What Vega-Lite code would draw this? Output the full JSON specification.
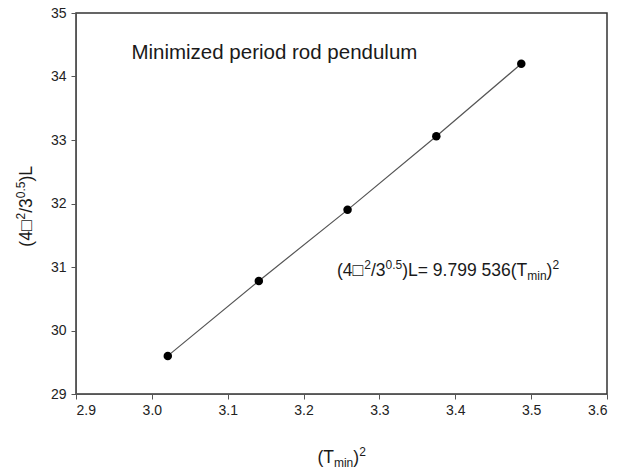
{
  "$schema": "https://vega.github.io/schema/vega-lite/v6.json",
  "width": 531,
  "height": 381,
  "autosize": {"type": "none"},
  "padding": {"left": 76, "top": 13, "right": 11, "bottom": 76},
  "background": "white",
  "config": {
    "font": "Liberation Sans",
    "view": {"stroke": "#333", "strokeWidth": 1.5},
    "axis": {
      "grid": false,
      "domainColor": "#555",
      "tickColor": "#555",
      "tickSize": 5,
      "labelFont": "Liberation Sans",
      "labelFontSize": 14,
      "labelColor": "#222"
    },
    "text": {"font": "Liberation Sans", "color": "#1a1a1a", "baseline": "alphabetic", "align": "left"}
  },
  "datasets": {
    "pts": [
      {"t2": 3.021, "val": 29.60},
      {"t2": 3.141, "val": 30.78},
      {"t2": 3.258, "val": 31.90},
      {"t2": 3.375, "val": 33.06},
      {"t2": 3.487, "val": 34.20}
    ],
    "texts": [
      {"id": "title", "t2": 2.973, "val": 34.37, "label": "Minimized period rod pendulum"},
      {"id": "e1", "t2": 3.2441, "val": 30.858, "label": "(4□"},
      {"id": "e2", "t2": 3.2441, "val": 30.858, "label": "2"},
      {"id": "e3", "t2": 3.2441, "val": 30.858, "label": "/3"},
      {"id": "e4", "t2": 3.2441, "val": 30.858, "label": "0.5"},
      {"id": "e5", "t2": 3.2441, "val": 30.858, "label": ")L= 9.799 536(T"},
      {"id": "e6", "t2": 3.2441, "val": 30.858, "label": "min"},
      {"id": "e7", "t2": 3.2441, "val": 30.858, "label": ")"},
      {"id": "e8", "t2": 3.2441, "val": 30.858, "label": "2"},
      {"id": "x1", "t2": 3.2183, "val": 27.913, "label": "(T"},
      {"id": "x2", "t2": 3.2183, "val": 27.913, "label": "min"},
      {"id": "x3", "t2": 3.2183, "val": 27.913, "label": ")"},
      {"id": "x4", "t2": 3.2183, "val": 27.913, "label": "2"},
      {"id": "y1", "t2": 2.842, "val": 31.32, "label": "(4□"},
      {"id": "y2", "t2": 2.842, "val": 31.32, "label": "2"},
      {"id": "y3", "t2": 2.842, "val": 31.32, "label": "/3"},
      {"id": "y4", "t2": 2.842, "val": 31.32, "label": "0.5"},
      {"id": "y5", "t2": 2.842, "val": 31.32, "label": ")L"}
    ]
  },
  "encoding": {
    "x": {
      "field": "t2", "type": "quantitative",
      "scale": {"domain": [2.9, 3.6], "nice": false, "zero": false},
      "axis": {"title": null, "tickCount": 7, "format": ".1f", "labelPadding": 4}
    },
    "y": {
      "field": "val", "type": "quantitative",
      "scale": {"domain": [29, 35], "nice": false, "zero": false},
      "axis": {"title": null, "tickCount": 6, "format": "d", "labelPadding": 5}
    }
  },
  "layer": [
    {
      "data": {"name": "pts"},
      "mark": {"type": "line", "color": "#555", "strokeWidth": 1.2}
    },
    {
      "data": {"name": "pts"},
      "mark": {"type": "point", "filled": true, "color": "black", "size": 72, "opacity": 1}
    },
    {
      "data": {"name": "texts"},
      "transform": [{"filter": "datum.id === 'title'"}],
      "mark": {"type": "text", "baseline": "middle", "fontSize": 20.5},
      "encoding": {"text": {"field": "label"}}
    },
    {"data": {"name": "texts"}, "transform": [{"filter": "datum.id === 'e1'"}],
     "mark": {"type": "text", "fontSize": 17.5, "dx": 0}, "encoding": {"text": {"field": "label"}}},
    {"data": {"name": "texts"}, "transform": [{"filter": "datum.id === 'e2'"}],
     "mark": {"type": "text", "fontSize": 12, "dx": 27.2, "dy": -7}, "encoding": {"text": {"field": "label"}}},
    {"data": {"name": "texts"}, "transform": [{"filter": "datum.id === 'e3'"}],
     "mark": {"type": "text", "fontSize": 17.5, "dx": 33.9}, "encoding": {"text": {"field": "label"}}},
    {"data": {"name": "texts"}, "transform": [{"filter": "datum.id === 'e4'"}],
     "mark": {"type": "text", "fontSize": 12, "dx": 48.5, "dy": -7}, "encoding": {"text": {"field": "label"}}},
    {"data": {"name": "texts"}, "transform": [{"filter": "datum.id === 'e5'"}],
     "mark": {"type": "text", "fontSize": 17.5, "dx": 65.2}, "encoding": {"text": {"field": "label"}}},
    {"data": {"name": "texts"}, "transform": [{"filter": "datum.id === 'e6'"}],
     "mark": {"type": "text", "fontSize": 12, "dx": 190.2, "dy": 4}, "encoding": {"text": {"field": "label"}}},
    {"data": {"name": "texts"}, "transform": [{"filter": "datum.id === 'e7'"}],
     "mark": {"type": "text", "fontSize": 17.5, "dx": 209.5}, "encoding": {"text": {"field": "label"}}},
    {"data": {"name": "texts"}, "transform": [{"filter": "datum.id === 'e8'"}],
     "mark": {"type": "text", "fontSize": 12, "dx": 215.4, "dy": -7}, "encoding": {"text": {"field": "label"}}},
    {"data": {"name": "texts"}, "transform": [{"filter": "datum.id === 'x1'"}],
     "mark": {"type": "text", "fontSize": 17.5, "dx": 0}, "encoding": {"text": {"field": "label"}}},
    {"data": {"name": "texts"}, "transform": [{"filter": "datum.id === 'x2'"}],
     "mark": {"type": "text", "fontSize": 12, "dx": 16.5, "dy": 4}, "encoding": {"text": {"field": "label"}}},
    {"data": {"name": "texts"}, "transform": [{"filter": "datum.id === 'x3'"}],
     "mark": {"type": "text", "fontSize": 17.5, "dx": 35.8}, "encoding": {"text": {"field": "label"}}},
    {"data": {"name": "texts"}, "transform": [{"filter": "datum.id === 'x4'"}],
     "mark": {"type": "text", "fontSize": 12, "dx": 41.7, "dy": -7}, "encoding": {"text": {"field": "label"}}},
    {"data": {"name": "texts"}, "transform": [{"filter": "datum.id === 'y1'"}],
     "mark": {"type": "text", "fontSize": 17.5, "angle": 270, "dx": 0}, "encoding": {"text": {"field": "label"}}},
    {"data": {"name": "texts"}, "transform": [{"filter": "datum.id === 'y2'"}],
     "mark": {"type": "text", "fontSize": 12, "angle": 270, "dx": 27.2, "dy": -7}, "encoding": {"text": {"field": "label"}}},
    {"data": {"name": "texts"}, "transform": [{"filter": "datum.id === 'y3'"}],
     "mark": {"type": "text", "fontSize": 17.5, "angle": 270, "dx": 33.9}, "encoding": {"text": {"field": "label"}}},
    {"data": {"name": "texts"}, "transform": [{"filter": "datum.id === 'y4'"}],
     "mark": {"type": "text", "fontSize": 12, "angle": 270, "dx": 48.5, "dy": -7}, "encoding": {"text": {"field": "label"}}},
    {"data": {"name": "texts"}, "transform": [{"filter": "datum.id === 'y5'"}],
     "mark": {"type": "text", "fontSize": 17.5, "angle": 270, "dx": 65.2}, "encoding": {"text": {"field": "label"}}}
  ]
}
